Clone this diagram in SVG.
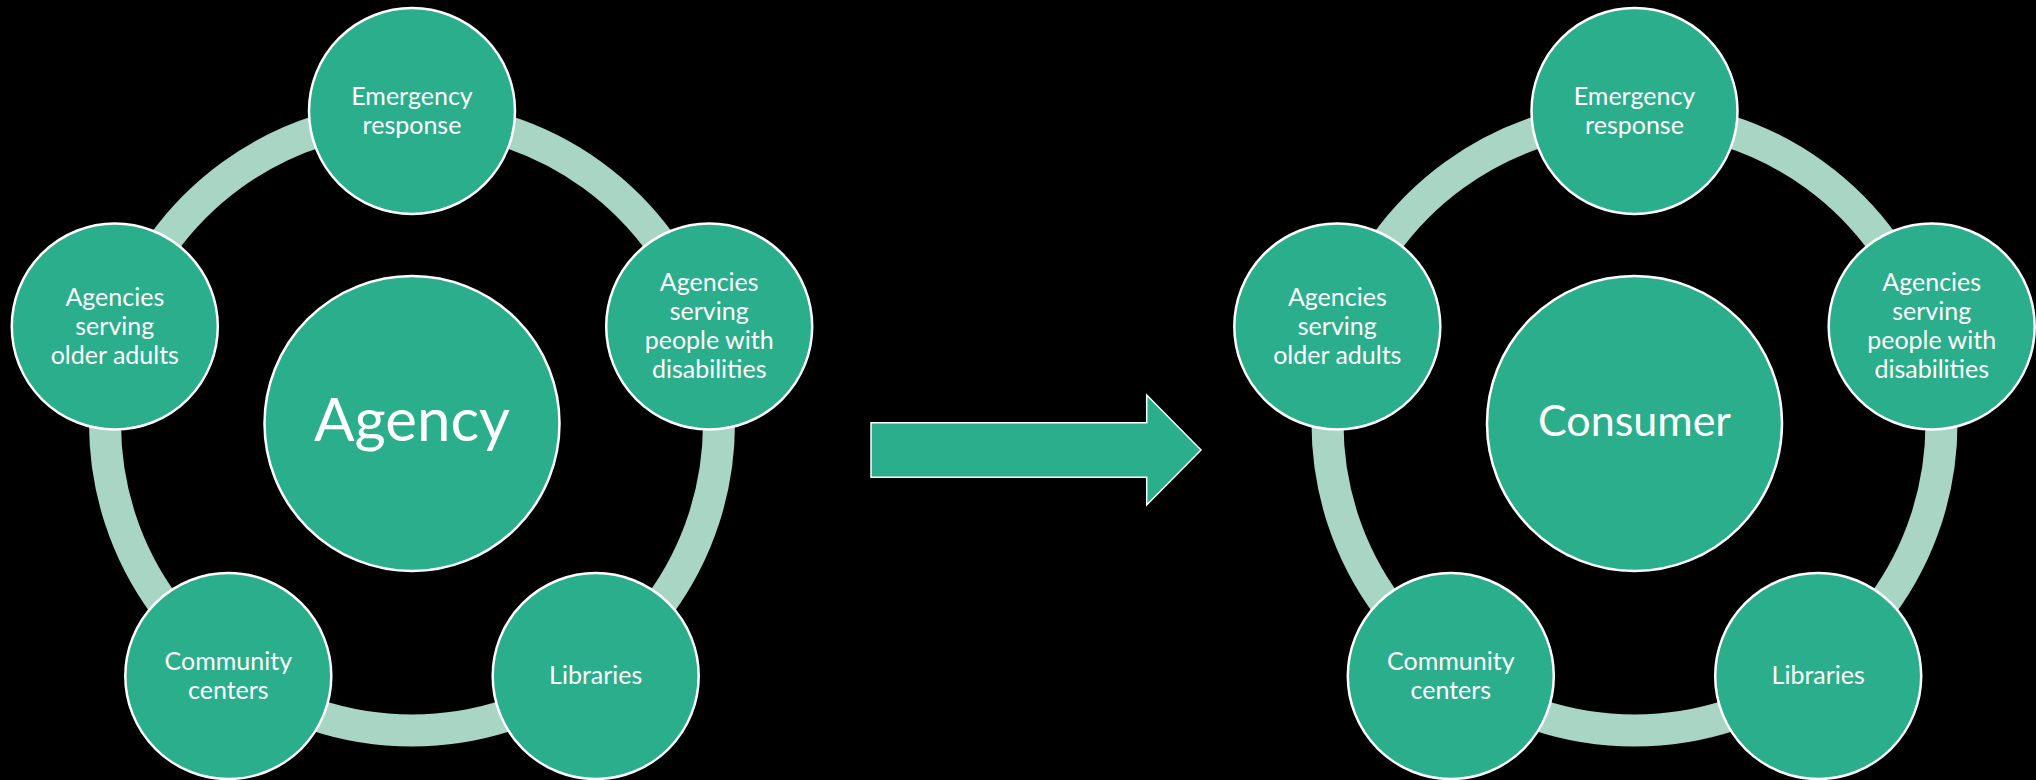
<svg xmlns="http://www.w3.org/2000/svg" width="2036" height="780" viewBox="0 0 2036 780">
  <style>
    .ring { fill: none; stroke: #A9D5C4; stroke-width: 32; }
    .node { fill: #2BAE8B; stroke: #FFFFFF; stroke-width: 2.5; }
    .lbl { font-family: Lato, "Open Sans", "Liberation Sans", sans-serif; font-size: 25px; fill: #FFFFFF; text-anchor: middle; }
    .big { font-family: Lato, "Open Sans", "Liberation Sans", sans-serif; fill: #FFFFFF; text-anchor: middle; }
    .arrow { fill: #2BAE8B; stroke: #FFFFFF; stroke-width: 1.5; }
  </style>
  <rect x="0" y="0" width="2036" height="780" fill="#000000"/>

  <!-- Left diagram -->
  <g id="diagram-agency">
    <g id="connectors-agency">
      <path class="ring" d="M412 116.5 A307 307 0 0 1 703.97 328.63"/>
      <path class="ring" d="M703.97 328.63 A307 307 0 0 1 592.45 671.87"/>
      <path class="ring" d="M592.45 671.87 A307 307 0 0 1 231.55 671.87"/>
      <path class="ring" d="M231.55 671.87 A307 307 0 0 1 120.03 328.63"/>
      <path class="ring" d="M120.03 328.63 A307 307 0 0 1 412 116.5"/>
    </g>
    <g id="agency-center">
      <circle class="node" cx="412" cy="423.5" r="147.5"/>
      <text class="big" x="412" y="441" font-size="60">Agency</text>
    </g>
    <g id="agency-emergency">
      <circle class="node" cx="412" cy="111" r="103"/>
      <text class="lbl" x="412" y="104.5">Emergency<tspan x="412" dy="29">response</tspan></text>
    </g>
    <g id="agency-disabilities">
      <circle class="node" cx="709.2" cy="326.5" r="103"/>
      <text class="lbl" x="709.2" y="290.5">Agencies<tspan x="709.2" dy="29">serving</tspan><tspan x="709.2" dy="29">people with</tspan><tspan x="709.2" dy="29">disabilities</tspan></text>
    </g>
    <g id="agency-libraries">
      <circle class="node" cx="595.7" cy="676" r="103"/>
      <text class="lbl" x="595.7" y="684">Libraries</text>
    </g>
    <g id="agency-community">
      <circle class="node" cx="228.3" cy="676" r="103"/>
      <text class="lbl" x="228.3" y="669.5">Community<tspan x="228.3" dy="29">centers</tspan></text>
    </g>
    <g id="agency-older">
      <circle class="node" cx="114.8" cy="326.5" r="103"/>
      <text class="lbl" x="114.8" y="305.5">Agencies<tspan x="114.8" dy="29">serving</tspan><tspan x="114.8" dy="29">older adults</tspan></text>
    </g>
  </g>

  <!-- Transition arrow -->
  <g id="transition-arrow">
    <path class="arrow" d="M871 422.7 L1146.7 422.7 L1146.7 395 L1201 450 L1146.7 505 L1146.7 477.3 L871 477.3 Z"/>
  </g>

  <!-- Right diagram -->
  <g id="diagram-consumer" transform="translate(1222.5 0)">
    <g id="connectors-consumer">
      <path class="ring" d="M412 116.5 A307 307 0 0 1 703.97 328.63"/>
      <path class="ring" d="M703.97 328.63 A307 307 0 0 1 592.45 671.87"/>
      <path class="ring" d="M592.45 671.87 A307 307 0 0 1 231.55 671.87"/>
      <path class="ring" d="M231.55 671.87 A307 307 0 0 1 120.03 328.63"/>
      <path class="ring" d="M120.03 328.63 A307 307 0 0 1 412 116.5"/>
    </g>
    <g id="consumer-center">
      <circle class="node" cx="412" cy="423.5" r="147.5"/>
      <text class="big" x="412" y="436" font-size="43">Consumer</text>
    </g>
    <g id="consumer-emergency">
      <circle class="node" cx="412" cy="111" r="103"/>
      <text class="lbl" x="412" y="104.5">Emergency<tspan x="412" dy="29">response</tspan></text>
    </g>
    <g id="consumer-disabilities">
      <circle class="node" cx="709.2" cy="326.5" r="103"/>
      <text class="lbl" x="709.2" y="290.5">Agencies<tspan x="709.2" dy="29">serving</tspan><tspan x="709.2" dy="29">people with</tspan><tspan x="709.2" dy="29">disabilities</tspan></text>
    </g>
    <g id="consumer-libraries">
      <circle class="node" cx="595.7" cy="676" r="103"/>
      <text class="lbl" x="595.7" y="684">Libraries</text>
    </g>
    <g id="consumer-community">
      <circle class="node" cx="228.3" cy="676" r="103"/>
      <text class="lbl" x="228.3" y="669.5">Community<tspan x="228.3" dy="29">centers</tspan></text>
    </g>
    <g id="consumer-older">
      <circle class="node" cx="114.8" cy="326.5" r="103"/>
      <text class="lbl" x="114.8" y="305.5">Agencies<tspan x="114.8" dy="29">serving</tspan><tspan x="114.8" dy="29">older adults</tspan></text>
    </g>
  </g>
</svg>
